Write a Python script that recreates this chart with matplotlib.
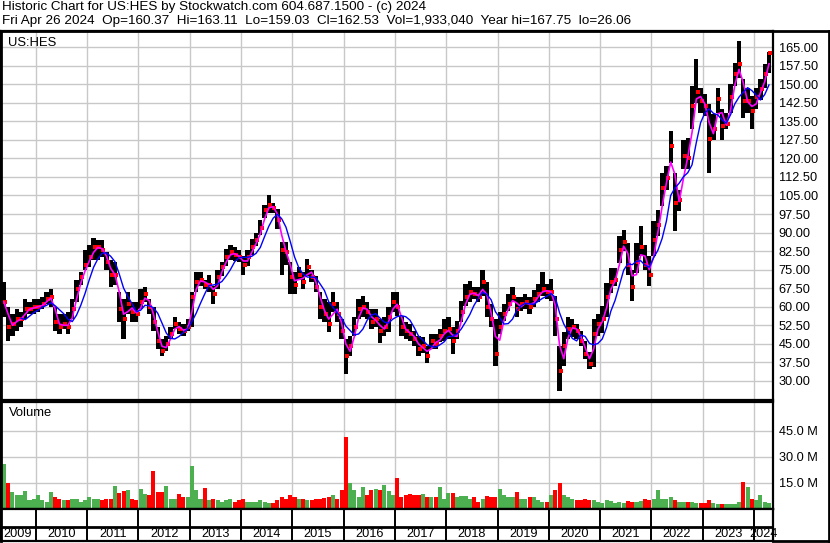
import numpy as np
import pandas as pd
import matplotlib
matplotlib.use("Agg")
import matplotlib.pyplot as plt
from matplotlib.lines import Line2D

plt.rcParams["font.family"] = ["Liberation Sans", "DejaVu Sans"]

# monthly values, May 2009 .. Apr 2024
close = [
    62, 52, 53, 55, 55, 59, 59, 60,  # 2009
    60, 61, 63, 64, 54, 52, 53, 52, 59, 67, 72, 77,  # 2010
    80, 84, 84, 83, 78, 73, 73, 59, 55, 61, 58, 57,  # 2011
    62, 65, 60, 54, 46, 42, 45, 49, 53, 51, 50, 52,  # 2012
    64, 70, 71, 69, 69, 65, 72, 76, 80, 82, 81, 80,  # 2013
    77, 80, 84, 87, 92, 99, 101, 100, 95, 83, 82, 72,  # 2014
    69, 73, 70, 76, 72, 68, 60, 57, 53, 61, 57, 50,  # 2015
    40, 44, 52, 59, 60, 58, 54, 55, 50, 52, 56, 62,  # 2016
    60, 52, 50, 49, 47, 43, 44, 40, 46, 45, 48, 50,  # 2017
    51, 46, 50, 58, 64, 66, 65, 64, 70, 60, 55, 41,  # 2018
    52, 57, 61, 64, 59, 61, 62, 60, 63, 65, 67, 66,  # 2019
    66, 55, 34, 44, 51, 52, 50, 46, 41, 37, 49, 53,  # 2020
    55, 64, 70, 71, 83, 86, 77, 68, 78, 84, 77, 73,  # 2021
    87, 93, 108, 112, 125, 102, 103, 121, 120, 141, 147, 143,  # 2022
    141, 128, 132, 144, 133, 134, 145, 154, 158, 143, 143, 139,  # 2023
    145, 148, 154, 162.5,  # 2024
]
high = [
    70, 60, 57, 59, 58, 63, 62, 63,
    63, 64, 66, 67, 60, 57, 57, 58, 63, 71, 74, 83,
    85, 88, 87, 87, 82, 79, 78, 66, 63, 66, 62, 62,
    67, 68, 63, 60, 52, 47, 48, 52, 56, 54, 53, 55,
    66, 74, 74, 71, 73, 68.5, 75, 78, 83.4, 85, 84, 83,
    80.7, 83, 87.4, 90, 95, 101, 105, 102, 99.6, 86, 86, 78,
    74, 76, 74, 79.3, 75, 72.6, 66, 63, 62, 66, 62, 55,
    47, 48, 56, 63, 64.5, 62, 59, 59, 55, 56, 60, 66,
    65.9, 56.4, 53.7, 53, 50, 48, 47.7, 44.3, 49, 49, 51, 55,
    55.7, 51.7, 54.4, 62.5, 69.3, 70.6, 68, 68, 75, 70, 61, 55,
    57.8, 61, 65.2, 68, 63.9, 63.9, 65.2, 63.9, 66.6, 69.3, 74, 69.3,
    71.3, 64.5, 44.3, 49.7, 55.7, 55, 53, 50.3, 46.3, 41.6, 55, 57,
    60.2, 69.6, 75.7, 75.7, 88.5, 91.2, 85.8, 75, 85.8, 92.6, 85, 80.4,
    94.6, 99.3, 114, 116.8, 131, 114, 107.4, 127.6, 128.3, 149.2, 160, 148.5,
    146, 141.8, 137.8, 148.5, 139.8, 138.4, 149.9, 158.7, 167.4, 151.9, 148.5, 145.2,
    148.5, 151.9, 158, 163.1,
]
low = [
    56, 46, 48, 50, 52, 55, 57, 57,
    58, 59, 61, 60, 50, 49, 51, 49, 55, 62, 69, 75,
    76, 79, 79, 80, 75, 68, 69, 54, 47, 57, 54, 54,
    59, 62, 57, 50, 43, 40, 42, 47, 51, 49, 48, 50,
    52, 66, 68.5, 67, 66, 61, 67, 72.5, 76.5, 79, 78.5, 78,
    73, 76.6, 81, 84.7, 89, 96, 98, 98, 91.5, 73, 77, 65,
    65, 71, 67, 72.6, 70, 66, 55, 53.7, 49.6, 57.7, 53.7, 47,
    32.7, 40, 48, 55, 56, 55, 51, 52, 45.5, 48, 49.6, 57.7,
    56.4, 48.3, 47, 46, 44, 40, 41.5, 37.2, 43, 43, 45.6, 46.3,
    47, 40.9, 47, 53.7, 60.5, 61.8, 63, 61.8, 64.5, 55.7, 51.7, 36,
    49, 54.4, 58.4, 61.8, 55.7, 58.4, 59, 57, 59.8, 61.8, 64.5, 63,
    62.5, 48.3, 26.06, 36.2, 47, 47.6, 47, 44.3, 38.9, 34.8, 35.5, 48,
    49.4, 56, 65.6, 68.3, 77.7, 82.4, 73, 62.2, 73.7, 80.4, 75, 68.3,
    80.4, 88.5, 100.6, 107.4, 118.2, 90.5, 98.6, 115.5, 115.5, 131.7, 142.5, 138.4,
    137, 114, 127.6, 138.4, 127.6, 131.7, 138.4, 149.2, 152.6, 136.4, 138.4, 131.7,
    139.8, 143.8, 148.5, 154.6,
]
# volume in millions of shares
volume = [
    26, 15, 10, 8, 8, 10.5, 5, 5.5,
    8, 5, 4, 9.6, 7, 6, 5, 5, 5.5, 5.5, 4, 5,
    7, 5.5, 6, 5, 6, 6, 13, 9.5, 10.5, 11, 6, 5,
    11.3, 8.6, 8, 22, 10, 10, 13, 5.5, 5.5, 8.6, 7, 7,
    25, 11, 6, 12, 5, 6, 5, 4, 5, 6, 4, 5,
    5.5, 4, 4, 4, 5, 4, 3.3, 3.3, 5, 7, 6, 8,
    7, 5.5, 6, 5, 5, 5.5, 6, 6.5, 7, 8, 6, 11,
    41.7, 14.8, 11, 7, 12.5, 8, 11, 11.3, 11, 13.8, 10.6, 8,
    17.7, 7, 8, 8.6, 8, 8, 8.4, 7, 7, 7, 12.5, 6,
    9.4, 9.4, 7, 7.5, 7.5, 6, 7, 4, 6, 7.5, 7, 7,
    11.3, 8, 6.7, 7, 10, 5.5, 6, 7, 7, 5, 4, 4,
    8, 11, 15.2, 8, 6.7, 6, 5, 5, 5.5, 5, 5, 4,
    3.3, 5, 4.8, 3.3, 4, 3.3, 4.8, 4, 4, 4.8, 6, 5,
    6, 11, 6, 5.5, 7, 5, 4, 4, 4, 4, 3.3, 3.3,
    3.3, 5, 3.3, 3, 3, 3, 3, 3, 4, 15.7, 12.5, 6,
    5, 8, 4, 3.3,
]
years = list(range(2009, 2025))
price_ticks = np.arange(30, 165.1, 7.5)
volume_ticks = [15, 30, 45]

title1 = "Historic Chart for US:HES by Stockwatch.com 604.687.1500 - (c) 2024"
title2 = ("Fri Apr 26 2024  Op=160.37  Hi=163.11  Lo=159.03  Cl=162.53  "
          "Vol=1,933,040  Year hi=167.75  lo=26.06")

W, H = 830, 543
fig = plt.figure(figsize=(W / 100, H / 100), dpi=100)


def box(x0, y0, x1, y1):
    return [x0 / W, 1 - y1 / H, (x1 - x0) / W, (y1 - y0) / H]


def fig_line(x0, y0, x1, y1, lw=2):
    fig.add_artist(Line2D([x0 / W, x1 / W], [1 - y0 / H, 1 - y1 / H],
                          transform=fig.transFigure, color="black", lw=lw))


n = len(close)
t = 2009 + 4 / 12 + (np.arange(n) + 0.5) / 12
c = pd.Series(close, dtype=float)
hi = np.array(high)
lo = np.array(low)
ma_fast = c.rolling(2, min_periods=1).mean()
ma_slow = c.rolling(5).mean()
xlim = (2009.30, 2024.37)
grid_c = "#c8c8c8"

ax = fig.add_axes(box(0, 31, 773, 400))
axv = fig.add_axes(box(0, 402, 773, 509))
axd = fig.add_axes(box(0, 509, 773, 541))

# price panel
ax.bar(t, hi - lo, bottom=lo, width=1 / 12, color="black", linewidth=0, zorder=2)
ax.scatter(t + 0.3 / 12, close, s=5, marker="s", color="red", linewidths=0, zorder=3)
ax.plot(t, ma_fast, color="#ff00ff", lw=1.2, zorder=4)
ax.plot(t, ma_slow, color="#0000ff", lw=1.0, zorder=4)
ax.set_xlim(*xlim)
ax.set_ylim(22.3, 171.5)
ax.set_yticks(price_ticks)
ax.set_yticklabels(["%.2f" % v for v in price_ticks])
ax.text(8 / 773, 1 - 12 / 369, "US:HES", transform=ax.transAxes,
        va="center", ha="left", fontsize=9.4)

# volume panel
vcol = ["#4caf50"] + ["#4caf50" if close[i] >= close[i - 1] else "#ff0000"
                      for i in range(1, n)]
axv.bar(t, volume, width=0.95 / 12, color=vcol, linewidth=0, zorder=2)
axv.set_xlim(*xlim)
axv.set_ylim(0, 61.7)
axv.set_yticks(volume_ticks)
axv.set_yticklabels(["%.1f M" % v for v in volume_ticks])
axv.text(9 / 773, 1 - 11 / 107, "Volume", transform=axv.transAxes,
         va="center", ha="left", fontsize=9.4)

for a in (ax, axv):
    a.set_xticks(years[1:])
    a.set_xticklabels([])
    a.yaxis.tick_right()
    a.tick_params(axis="both", length=0, labelsize=9.2, pad=4)
    a.grid(True, color=grid_c, lw=1.0, zorder=0)
    a.set_axisbelow(True)
    for s in a.spines.values():
        s.set_linewidth(1.6)
        s.set_color("black")

# date strip
axd.set_xlim(*xlim)
axd.set_ylim(0, 32)
axd.axhline(14, color="black", lw=2)
for y in years[1:]:
    axd.axvline(y, color="black", lw=1.4)
for y in years:
    left = max(y, xlim[0])
    right = min(y + 1, xlim[1])
    axd.text((left + right) / 2, 7, str(y), ha="center", va="center",
             fontsize=9.2, clip_on=False)
axd.set_xticks([])
axd.set_yticks([])
for s in axd.spines.values():
    s.set_linewidth(1.6)

# header and outer frame
fig.text(2 / W, 1 - 1 / H, title1, ha="left", va="top", fontsize=9.7)
fig.text(2 / W, 1 - 15 / H, title2, ha="left", va="top", fontsize=9.7)
fig_line(0, 31, 830, 31, lw=2)
fig_line(773, 541, 830, 541, lw=2)
fig_line(828.5, 31, 828.5, 541, lw=2)
fig_line(0.5, 31, 0.5, 541, lw=2)

fig.savefig("out.png", dpi=100)
